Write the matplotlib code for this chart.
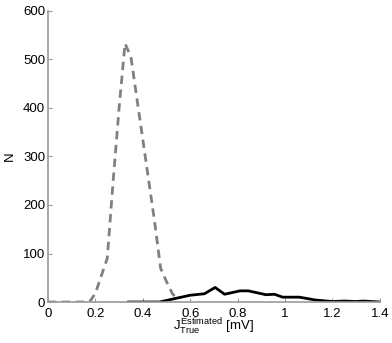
import matplotlib
matplotlib.use("Agg")
import matplotlib.pyplot as plt
from matplotlib.ticker import FuncFormatter

plt.rcParams['font.family'] = ['Liberation Sans', 'DejaVu Sans']
plt.rcParams['mathtext.fontset'] = 'custom'
plt.rcParams['mathtext.rm'] = 'Liberation Sans'
plt.rcParams['mathtext.it'] = 'Liberation Sans'

# --- data ---
true_x = [0.0, 0.05, 0.1, 0.15, 0.175, 0.2, 0.25, 0.275, 0.3, 0.325, 0.35,
          0.4, 0.45, 0.475, 0.5, 0.525, 0.55]
true_n = [0, 0, 0, 0, 0, 18, 90, 250, 400, 533, 505,
          335, 165, 70, 42, 17, 5]

est_x = [0.34, 0.47, 0.535, 0.6, 0.66, 0.705, 0.745, 0.81, 0.845, 0.92, 0.955,
         0.99, 1.06, 1.13, 1.2, 1.25, 1.3, 1.33, 1.4]
est_n = [0, 0, 7, 14, 17, 30, 16, 23, 23, 15, 16,
         10, 10, 4, 1, 2, 1, 2, 0]

x_ticks = [0, 0.2, 0.4, 0.6, 0.8, 1.0, 1.2, 1.4]
y_ticks = [0, 100, 200, 300, 400, 500, 600]

fig = plt.figure(figsize=(3.92, 3.43), dpi=100)
ax = fig.add_axes([0.1224, 0.1195, 0.8466, 0.8485])

ax.plot(true_x, true_n, color='#808080', lw=2, dashes=(3, 2))
ax.plot(est_x, est_n, color='black', lw=2)

ax.set_xlim(0, 1.4)
ax.set_ylim(0, 600)
ax.set_xticks(x_ticks)
ax.set_yticks(y_ticks)
ax.xaxis.set_major_formatter(FuncFormatter(lambda v, p: f"{v:g}"))

for side in ['top', 'right']:
    ax.spines[side].set_visible(False)
for side in ['left', 'bottom']:
    ax.spines[side].set_color('#999999')
    ax.spines[side].set_linewidth(1.2)

ax.tick_params(direction='in', length=3, color='#999999', labelsize=9.5,
               labelcolor='black')
ax.tick_params(axis='x', pad=4)
ax.tick_params(axis='y', pad=2)

ax.set_ylabel('N', fontsize=9.5, labelpad=5)
ax.set_xlabel(r'$J_{\mathrm{True}}^{\mathrm{Estimated}}$ [mV]', fontsize=9.5, labelpad=-2)

fig.savefig('out.png', dpi=100)
